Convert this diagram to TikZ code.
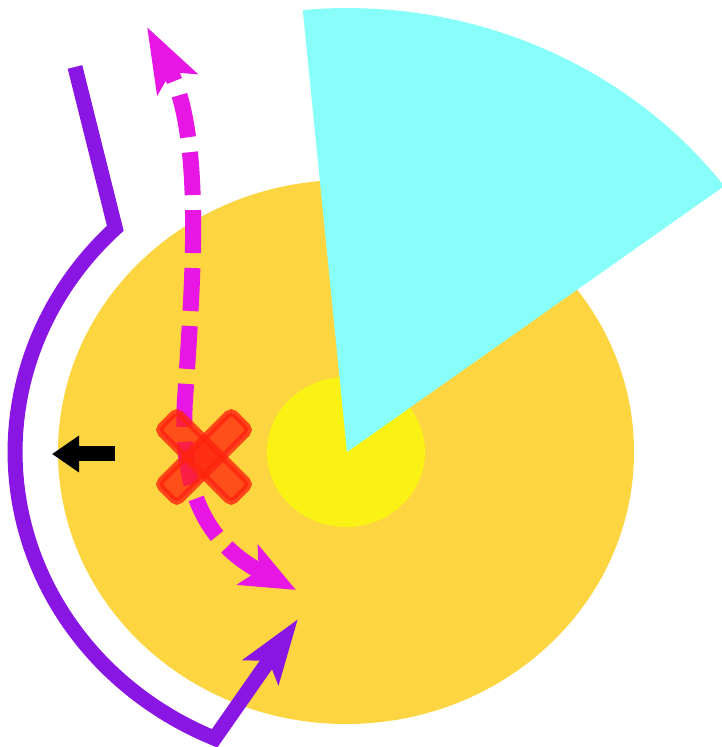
\documentclass[tikz,border=0pt]{standalone}
\usetikzlibrary{arrows.meta}
\definecolor{discorange}{RGB}{252,213,64}
\definecolor{coreyellow}{RGB}{250,242,20}
\definecolor{sectorcyan}{RGB}{136,254,250}
\definecolor{pathpurple}{RGB}{138,22,228}
\definecolor{pathmagenta}{RGB}{232,22,228}
\definecolor{crossred}{RGB}{255,35,15}
\tikzset{
  purpleline/.style={draw=pathpurple, line width=15pt, line join=miter,
    -{Stealth[length=64pt,width=42pt,inset=13pt]}},
  magentaline/.style={draw=pathmagenta, line width=16pt, dash pattern=on 43pt off 15pt,
    {Stealth[length=54pt,width=44pt,inset=12pt]}-{Stealth[length=64pt,width=44pt,inset=13pt]}},
  blackarrow/.style={draw=black, line width=15pt, -{Triangle[length=27pt,width=35pt]}},
  crossbar/.style={fill=crossred, fill opacity=0.75, draw=crossred, draw opacity=0.8,
    line width=7pt, rounded corners=5pt, minimum width=104pt, minimum height=27pt,
    inner sep=0pt, rectangle, draw}
}
\begin{document}
\begin{tikzpicture}[x=1pt,y=1pt]
\useasboundingbox (0,0) rectangle (721,747);
% discs
\fill[discorange] (346,295) ellipse[x radius=288, y radius=272];
\fill[coreyellow] (346,295) ellipse[x radius=79, y radius=75];
% sector
\fill[sectorcyan] (347,295) -- (724.2,560.9)
  arc[start angle=36.8, end angle=95.4, x radius=471, y radius=444] -- cycle;
% purple path
\coordinate (pstart) at (75,680);
\coordinate (pbend) at (115.3,518.7);
\coordinate (ptip) at (298,128);
\draw[purpleline] (pstart) -- (pbend)
  arc[start angle=134.2, end angle=246.6, x radius=331, y radius=312] -- (ptip);
% black arrow
\coordinate (bstart) at (115,293);
\coordinate (btip) at (52,293);
\draw[blackarrow] (bstart) -- (btip);
% magenta dashed path
\coordinate (mlow) at (296,157);
\coordinate (mmid) at (185,347);
\coordinate (mtop) at (147,720);
\draw[magentaline] (mlow) .. controls (200,207) and (180,267) .. (mmid)
  .. controls (192,457) and (205,610) .. (mtop);
% red cross
\node[crossbar, rotate=45] (barA) at (204,290) {};
\node[crossbar, rotate=-45] (barB) at (204,290) {};
\end{tikzpicture}
\end{document}
